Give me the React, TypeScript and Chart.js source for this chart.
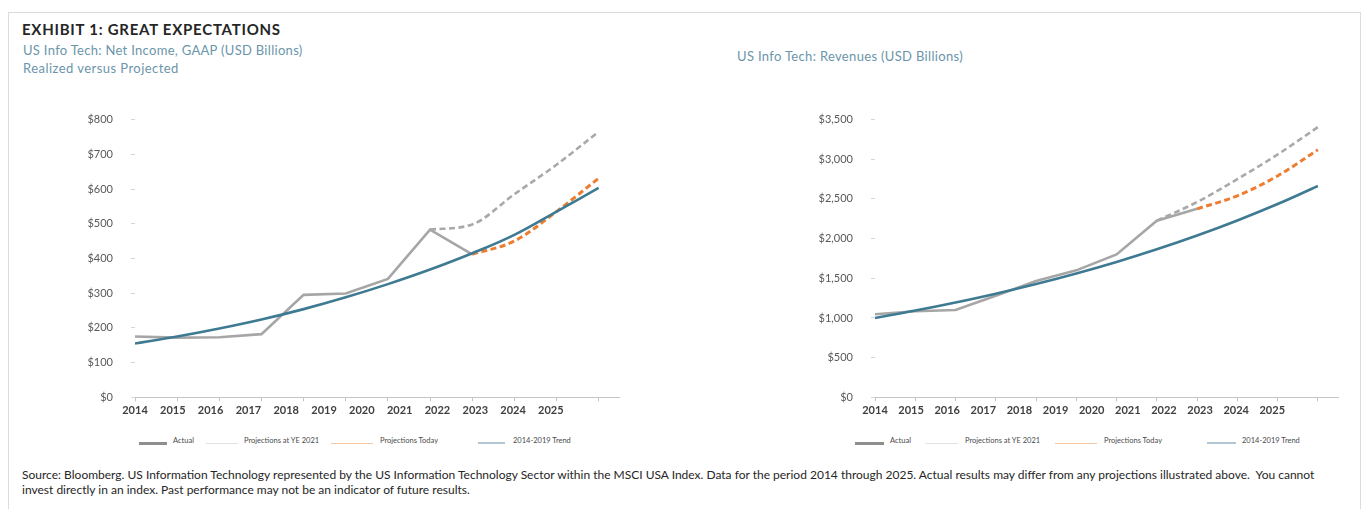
import React, { useEffect, useRef } from 'react';
import { Chart, registerables } from 'chart.js';

Chart.register(...registerables);

// ---------- data ----------
const years = ['2014', '2015', '2016', '2017', '2018', '2019', '2020', '2021', '2022', '2023', '2024', '2025'];

const niActual = [175, 172, 173, 182, 295, 299, 341, 483, 412, null, null, null];
const niProjYE2021 = [null, null, null, null, null, null, null, 483, 498, 585, 670, 765];
const niProjToday = [null, null, null, null, null, null, null, null, 412, 450, 535, 631];
const niTrend = [155, 175, 198, 224, 254, 288, 326, 368, 415, 468, 535, 603];

const revActual = [1046, 1085, 1100, 1280, 1465, 1600, 1800, 2226, 2375, null, null, null];
const revProjYE2021 = [null, null, null, null, null, null, null, 2226, 2460, 2750, 3060, 3405];
const revProjToday = [null, null, null, null, null, null, null, null, 2375, 2540, 2790, 3120];
const revTrend = [1000, 1093, 1195, 1306, 1428, 1561, 1706, 1865, 2039, 2229, 2436, 2663];

const legendLabels = ['Actual', 'Projections at YE 2021', 'Projections Today', '2014-2019 Trend'];

const titleText = 'EXHIBIT 1: GREAT EXPECTATIONS';
const leftSubtitle1 = 'US Info Tech: Net Income, GAAP (USD Billions)';
const leftSubtitle2 = 'Realized versus Projected';
const rightSubtitle = 'US Info Tech: Revenues (USD Billions)';
const footLine1 =
  'Source: Bloomberg. US Information Technology represented by the US Information Technology Sector within the MSCI USA Index. Data for the period 2014 through 2025. Actual results may differ from any projections illustrated above.  You cannot';
const footLine2 = 'invest directly in an index. Past performance may not be an indicator of future results.';

// ---------- styles ----------
const C_ACTUAL = '#a6a6a6';
const C_YE = '#a9a9a9';
const C_TODAY = '#ed7d31';
const C_TREND = '#3f7a93';
const LABEL_RATIO = 0.897;
const FONT = 'Lato, "Open Sans", sans-serif';

type ChartProps = {
  left: number;
  top: number;
  width: number;
  height: number;
  yMax: number;
  yStep: number;
  fmt: (v: number) => string;
  actual: (number | null)[];
  ye: (number | null)[];
  today: (number | null)[];
  trend: (number | null)[];
  axisWidth: number;
  padRight: number;
  padTop: number;
  padBottom: number;
};

function LineChart(p: ChartProps) {
  const ref = useRef<HTMLCanvasElement | null>(null);
  useEffect(() => {
    if (!ref.current) return;
    const yearTicks = (s: any) => {
      s.ticks = years.map((y) => ({ value: +y }));
    };
    const chart = new Chart(ref.current, {
      type: 'line',
      data: {
        labels: years,
        datasets: [
          {
            label: legendLabels[3],
            data: p.trend,
            borderColor: C_TREND,
            borderWidth: 2.6,
            pointRadius: 0,
            tension: 0.4,
          },
          {
            label: legendLabels[2],
            data: p.today,
            borderColor: C_TODAY,
            borderWidth: 3,
            borderDash: [6, 3.5],
            pointRadius: 0,
            cubicInterpolationMode: 'monotone',
          },
          {
            label: legendLabels[1],
            data: p.ye,
            borderColor: C_YE,
            borderWidth: 2.6,
            borderDash: [6, 3.5],
            pointRadius: 0,
            cubicInterpolationMode: 'monotone',
          },
          {
            label: legendLabels[0],
            data: p.actual,
            borderColor: C_ACTUAL,
            borderWidth: 2.6,
            pointRadius: 0,
            tension: 0,
          },
        ],
      },
      options: {
        responsive: false,
        animation: false,
        layout: { padding: { left: 0, right: p.padRight, top: p.padTop, bottom: p.padBottom } },
        plugins: { legend: { display: false }, tooltip: { enabled: false } },
        scales: {
          x: {
            type: 'linear',
            position: 'bottom',
            min: 2014,
            max: 2025.5,
            afterBuildTicks: yearTicks,
            ticks: { display: false },
            grid: { display: true, drawOnChartArea: false, drawTicks: true, tickLength: 4, color: '#c4c4c4', lineWidth: 1 },
            border: { display: true, color: '#c4c4c4', width: 1 },
            afterFit: (s: any) => {
              s.height = 4;
            },
          },
          xl: {
            type: 'linear',
            position: 'bottom',
            min: 2014,
            max: 2014 + 11.5 / LABEL_RATIO,
            afterBuildTicks: yearTicks,
            ticks: {
              autoSkip: false,
              maxRotation: 0,
              padding: 3,
              color: '#404040',
              font: { family: FONT, size: 11, weight: 'bold' },
              callback: (v: any) => String(v),
            },
            grid: { display: false, drawTicks: false },
            border: { display: false },
            afterFit: (s: any) => {
              s.height = 20;
            },
          },
          y: {
            type: 'linear',
            min: 0,
            max: p.yMax,
            ticks: {
              stepSize: p.yStep,
              padding: 18,
              color: '#595959',
              font: { family: FONT, size: 11 },
              callback: (v: any) => p.fmt(Number(v)),
            },
            grid: { display: true, drawOnChartArea: false, drawTicks: true, tickLength: 4, color: '#d6d6d6' },
            border: { display: false },
            afterFit: (s: any) => {
              s.width = p.axisWidth;
            },
          },
        },
      } as any,
    });
    return () => chart.destroy();
  }, []);
  return (
    <canvas
      ref={ref}
      width={p.width}
      height={p.height}
      style={{ position: 'absolute', left: p.left, top: p.top, width: p.width, height: p.height }}
    />
  );
}

type LegendPos = { l0: number; l1: number; t: number };
const legendColors = ['#8e8e8e', '#e2e2e2', '#f7c7a3', '#b2c7d1'];
const legendWidths = [3, 1, 1, 2];

function Legend({ pos, y }: { pos: LegendPos[]; y: number }) {
  return (
    <>
      {pos.map((q, i) => (
        <React.Fragment key={i}>
          <div
            style={{
              position: 'absolute',
              left: q.l0,
              top: y + 2 - legendWidths[i] / 2,
              width: q.l1 - q.l0,
              height: legendWidths[i],
              background: legendColors[i],
            }}
          />
          <div
            style={{
              position: 'absolute',
              left: q.t,
              top: y - 5,
              fontFamily: FONT,
              fontSize: 7.5,
              lineHeight: '9px',
              color: '#4a4a4a',
              whiteSpace: 'nowrap',
            }}
          >
            {legendLabels[i]}
          </div>
        </React.Fragment>
      ))}
    </>
  );
}

const subStyle: React.CSSProperties = {
  position: 'absolute',
  fontFamily: FONT,
  fontSize: 13,
  lineHeight: '13px',
  color: '#6b95aa',
  whiteSpace: 'nowrap',
};

export default function App() {
  return (
    <div
      style={{
        position: 'absolute',
        left: 0,
        top: 0,
        width: 1370,
        height: 509,
        overflow: 'hidden',
        background: '#ffffff',
      }}
    >
      <div
        style={{
          position: 'absolute',
          left: 8,
          top: 12,
          width: 1353,
          height: 520,
          border: '1px solid #dcdcdc',
          boxSizing: 'border-box',
        }}
      />
      <div
        style={{
          position: 'absolute',
          left: 22,
          top: 22,
          fontFamily: FONT,
          fontWeight: 'bold',
          fontSize: 15,
          lineHeight: '15px',
          letterSpacing: '0.75px',
          color: '#262626',
          whiteSpace: 'nowrap',
        }}
      >
        {titleText}
      </div>
      <div style={{ ...subStyle, left: 23, top: 44, letterSpacing: '0.3px' }}>{leftSubtitle1}</div>
      <div style={{ ...subStyle, left: 23, top: 62, letterSpacing: '0.45px' }}>{leftSubtitle2}</div>
      <div style={{ ...subStyle, left: 737, top: 50, letterSpacing: '0.33px' }}>{rightSubtitle}</div>

      <LineChart
        left={40}
        top={95}
        width={600}
        height={340}
        yMax={800}
        yStep={100}
        fmt={(v) => '$' + v}
        actual={niActual}
        ye={niProjYE2021}
        today={niProjToday}
        trend={niTrend}
        axisWidth={95}
        padRight={20.3}
        padTop={16.7}
        padBottom={13.7}
      />
      <LineChart
        left={770}
        top={95}
        width={600}
        height={340}
        yMax={3500}
        yStep={500}
        fmt={(v) => '$' + v.toLocaleString('en-US')}
        actual={revActual}
        ye={revProjYE2021}
        today={revProjToday}
        trend={revTrend}
        axisWidth={105}
        padRight={32}
        padTop={15.7}
        padBottom={13.7}
      />

      <Legend
        y={441}
        pos={[
          { l0: 139, l1: 167, t: 173 },
          { l0: 206, l1: 238, t: 244 },
          { l0: 331, l1: 373, t: 380 },
          { l0: 478, l1: 505, t: 513 },
        ]}
      />
      <Legend
        y={441}
        pos={[
          { l0: 855, l1: 884, t: 890 },
          { l0: 925, l1: 958, t: 965 },
          { l0: 1055, l1: 1097, t: 1104 },
          { l0: 1207, l1: 1236, t: 1242 },
        ]}
      />

      <div
        style={{
          position: 'absolute',
          left: 22,
          top: 467,
          fontFamily: FONT,
          fontSize: 12,
          lineHeight: '15px',
          color: '#262626',
          whiteSpace: 'pre',
        }}
      >
        <div>{footLine1}</div>
        <div>{footLine2}</div>
      </div>
    </div>
  );
}
